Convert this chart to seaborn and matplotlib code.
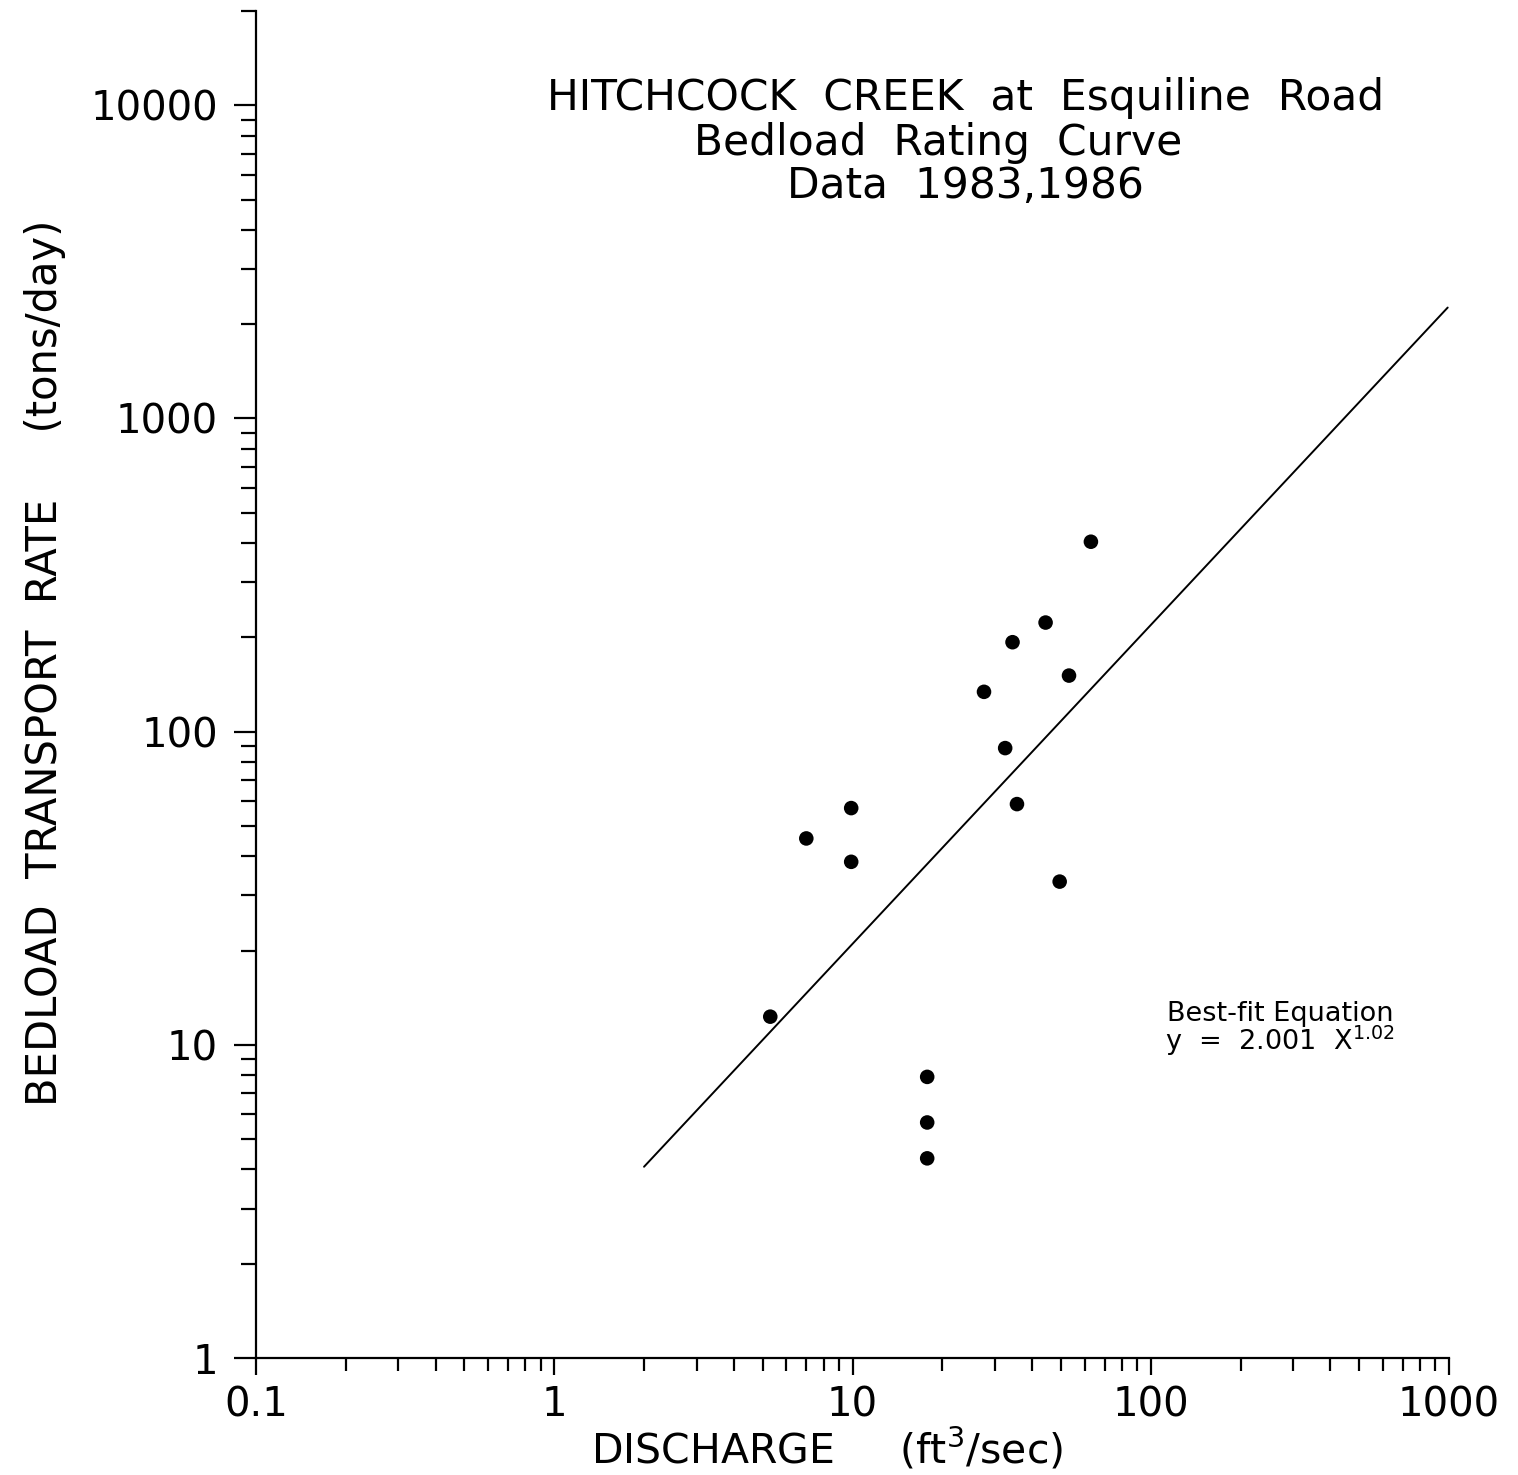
import pandas as pd
import seaborn as sns
import matplotlib.pyplot as plt
from matplotlib.ticker import LogLocator, NullFormatter

# values
discharge = [5.3, 7.0, 9.9, 9.9, 17.8, 17.8, 17.8, 27.6, 32.5, 34.4, 35.6, 44.4, 49.5, 53.2, 63.0]
bedload = [12.3, 45.6, 57.0, 38.4, 7.9, 5.65, 4.34, 134, 88.6, 193, 58.7, 223, 33.2, 151, 404]

# best-fit line end points (y = 2.001 X^1.02)
fit_x = [2.0, 990.0]
fit_y = [4.08, 2260.0]

x_ticks = [0.1, 1, 10, 100, 1000]
x_ticklabels = ["0.1", "1", "10", "100", "1000"]
y_ticks = [1, 10, 100, 1000, 10000]
y_ticklabels = ["1", "10", "100", "1000", "10000"]

title_lines = ["HITCHCOCK  CREEK  at  Esquiline  Road",
               "Bedload  Rating  Curve",
               "Data  1983,1986"]

sns.set_style("ticks")
plt.rcParams["font.family"] = ["DejaVu Sans"]
plt.rcParams["mathtext.fontset"] = "dejavusans"
for key in ["text.color", "axes.labelcolor", "xtick.color", "ytick.color", "axes.edgecolor"]:
    plt.rcParams[key] = "black"

W, H = 1518, 1475
fig = plt.figure(figsize=(W / 100, H / 100), dpi=100)
ax = fig.add_axes([256 / W, 1 - 1358 / H, (1449 - 256) / W, (1358 - 11) / H])
ax.set_xscale("log")
ax.set_yscale("log")

df = pd.DataFrame({"discharge": discharge, "bedload": bedload})
sns.scatterplot(data=df, x="discharge", y="bedload", ax=ax, s=110,
                color="black", edgecolor="none", linewidth=0)
sns.lineplot(x=fit_x, y=fit_y, ax=ax, color="black", linewidth=1.4)

ax.set_xlim(0.1, 1000)
ax.set_ylim(1, 20000)
sns.despine(ax=ax)
for side in ["left", "bottom"]:
    ax.spines[side].set_linewidth(1.6)

ax.set_xticks(x_ticks, x_ticklabels)
ax.set_yticks(y_ticks, y_ticklabels)
ax.xaxis.set_minor_locator(LogLocator(base=10, subs=range(2, 10)))
ax.yaxis.set_minor_locator(LogLocator(base=10, subs=range(2, 10)))
ax.xaxis.set_minor_formatter(NullFormatter())
ax.yaxis.set_minor_formatter(NullFormatter())
ax.tick_params(axis="x", which="major", length=12.5, width=1.6, pad=7, labelsize=29, direction="out")
ax.tick_params(axis="x", which="minor", length=9.5, width=1.6, direction="out")
ax.tick_params(axis="y", which="major", length=16, width=1.6, pad=11.5, labelsize=29, direction="out")
ax.tick_params(axis="y", which="minor", length=11, width=1.6, direction="out")

ax.set_xlabel("DISCHARGE     (ft$^3$/sec)", fontsize=29.5)
ax.xaxis.set_label_coords(0.479, -0.0505)
ax.set_ylabel("BEDLOAD  TRANSPORT  RATE     (tons/day)", fontsize=30)
ax.yaxis.set_label_coords(-0.159, 0.516)

# title block
for txt, cx, base in zip(title_lines, [966, 938, 965], [110, 155, 198]):
    fig.text(cx / W, 1 - base / H, txt, ha="center", va="baseline", fontsize=30.5)

# equation note (two tight lines in one text)
fig.text(1280 / W, 1 - 1050 / H, "Best-fit Equation\ny  =  2.001  X$^{1.02}$",
         ha="center", va="baseline", multialignment="center",
         fontsize=19.5, linespacing=0.85)

fig.savefig("out.png", dpi=100)
